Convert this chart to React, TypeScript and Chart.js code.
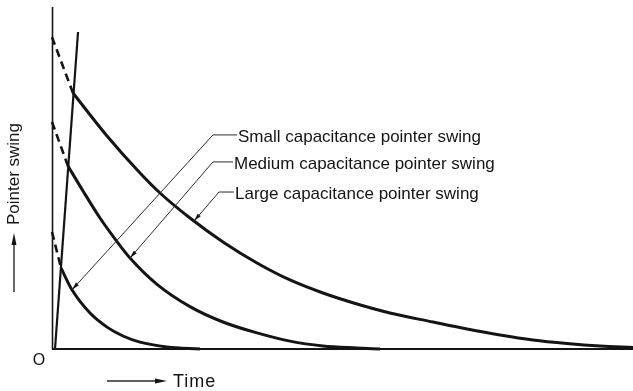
import { useEffect, useRef } from "react";
import { Chart, registerables } from "chart.js";

Chart.register(...registerables);

// Time axis runs 0..100, pointer swing axis 0..100 (arbitrary units).
const largeTime = [3.61, 9.47, 15.15, 18.59, 23.75, 29.43, 35.28, 40.96, 46.64, 52.5, 58.18, 65.58, 71.43, 77.11, 82.79, 88.64, 94.32, 100];
const largeSwing = [74.85, 62.28, 51.46, 45.61, 38.3, 31.29, 25.15, 20.18, 16.37, 13.16, 10.53, 7.89, 5.85, 4.09, 2.63, 1.61, 0.88, 0.44];

const mediumTime = [2.75, 5.34, 8.26, 10.84, 13.43, 18.07, 23.75, 29.43, 35.28, 40.96, 46.64, 52.5, 56.45];
const mediumSwing = [53.5, 46.2, 38.3, 32.2, 26.6, 18.9, 12.4, 7.9, 4.7, 2.3, 0.9, 0.3, 0];

const smallTime = [1.55, 3.44, 6.54, 9.47, 12.22, 15.15, 19.79, 25.47];
const smallSwing = [23.7, 17.3, 10.5, 6.4, 3.8, 2.0, 0.6, 0];

// Initial charging stroke of the pointer
const chargeTime = [0.52, 4.48];
const chargeSwing = [0, 92.7];

// Extrapolated decay back to t = 0 (dashed)
const largeExtrapTime = [0, 3.61];
const largeExtrapSwing = [91.2, 74.85];
const mediumExtrapTime = [0, 2.75];
const mediumExtrapSwing = [66.4, 53.5];
const smallExtrapTime = [0, 1.55];
const smallExtrapSwing = [34.2, 23.7];

const calloutLabels = [
  "Small capacitance pointer swing",
  "Medium capacitance pointer swing",
  "Large capacitance pointer swing",
];
// Arrow tip on each curve, and the elbow where the leader turns horizontal
const calloutTipTime = [3.44, 13.43, 24.44];
const calloutTipSwing = [17.3, 26.6, 37.4];
const calloutElbowTime = [27.71, 27.71, 28.74];
const calloutElbowSwing = [62.6, 54.7, 45.9];

const zip = (xs: number[], ys: number[]) => xs.map((x, i) => ({ x, y: ys[i] }));

const INK = "#141414";
const FONT = '17px "Liberation Sans", Arial, sans-serif';

function arrowHead(
  ctx: CanvasRenderingContext2D,
  fx: number,
  fy: number,
  tx: number,
  ty: number,
  len: number,
  half: number
) {
  const a = Math.atan2(ty - fy, tx - fx);
  const bx = tx - Math.cos(a) * len;
  const by = ty - Math.sin(a) * len;
  ctx.beginPath();
  ctx.moveTo(tx, ty);
  ctx.lineTo(bx + Math.sin(a) * half, by - Math.cos(a) * half);
  ctx.lineTo(bx - Math.sin(a) * half, by + Math.cos(a) * half);
  ctx.closePath();
  ctx.fill();
}

const diagramPlugin = {
  id: "diagramDecorations",
  beforeDatasetsDraw(chart: any) {
    const { ctx, chartArea } = chart;
    const { left, right, top, bottom } = chartArea;
    ctx.save();
    ctx.strokeStyle = INK;
    ctx.lineCap = "butt";
    // vertical axis
    ctx.lineWidth = 1.6;
    ctx.beginPath();
    ctx.moveTo(left + 0.5, top);
    ctx.lineTo(left + 0.5, bottom);
    ctx.stroke();
    // horizontal axis
    ctx.lineWidth = 2;
    ctx.beginPath();
    ctx.moveTo(left, bottom);
    ctx.lineTo(right, bottom);
    ctx.stroke();
    ctx.restore();
  },
  afterDatasetsDraw(chart: any) {
    const { ctx, chartArea, scales } = chart;
    const { left, bottom } = chartArea;
    const px = (v: number) => scales.x.getPixelForValue(v);
    const py = (v: number) => scales.y.getPixelForValue(v);
    ctx.save();
    ctx.fillStyle = INK;
    ctx.strokeStyle = "#2a2a2a";
    ctx.font = FONT;
    ctx.textBaseline = "middle";
    ctx.textAlign = "left";

    // leader lines with labels
    calloutLabels.forEach((label, i) => {
      const tx = px(calloutTipTime[i]);
      const ty = py(calloutTipSwing[i]);
      const ex = px(calloutElbowTime[i]);
      const ey = py(calloutElbowSwing[i]);
      const hx = ex + (i === 2 ? 15 : i === 1 ? 20 : 24);
      ctx.lineWidth = 1;
      ctx.beginPath();
      ctx.moveTo(tx, ty);
      ctx.lineTo(ex, ey);
      ctx.lineTo(hx, ey);
      ctx.stroke();
      arrowHead(ctx, ex, ey, tx, ty, 8, 2);
      ctx.fillText(label, hx + 1, ey + 2);
    });

    // origin mark
    ctx.font = '16px "Liberation Sans", Arial, sans-serif';
    ctx.textAlign = "center";
    ctx.fillText("O", left - 13, bottom + 12);

    // time axis caption with arrow
    ctx.textAlign = "left";
    const ay = bottom + 32;
    ctx.lineWidth = 1.4;
    ctx.beginPath();
    ctx.moveTo(left + 55, ay);
    ctx.lineTo(left + 108, ay);
    ctx.stroke();
    arrowHead(ctx, left + 55, ay, left + 115, ay, 12, 2.5);
    ctx.save();
    ctx.font = '18px "Liberation Sans", Arial, sans-serif';
    (ctx as any).letterSpacing = "1px";
    ctx.fillText("Time", left + 121, ay + 1);
    ctx.restore();

    // swing axis caption with arrow
    ctx.font = FONT;
    const ax = left - 38;
    ctx.beginPath();
    ctx.moveTo(ax, bottom - 57);
    ctx.lineTo(ax, bottom - 108);
    ctx.stroke();
    arrowHead(ctx, ax, bottom - 57, ax, bottom - 116, 12, 2.5);
    ctx.save();
    ctx.translate(ax, 174);
    ctx.rotate(-Math.PI / 2);
    ctx.textAlign = "center";
    ctx.fillText("Pointer swing", 0, 0);
    ctx.restore();

    ctx.restore();
  },
};

export default function App() {
  const canvasRef = useRef<HTMLCanvasElement | null>(null);

  useEffect(() => {
    if (!canvasRef.current) return;
    const curve = (data: { x: number; y: number }[], width: number) => ({
      data,
      borderColor: INK,
      borderWidth: width,
      pointRadius: 0,
      cubicInterpolationMode: "monotone" as const,
      fill: false,
      clip: false as const,
    });
    const dashed = (data: { x: number; y: number }[]) => ({
      ...curve(data, 2.6),
      borderDash: [8, 5],
    });

    const chart = new Chart(canvasRef.current, {
      type: "line",
      data: {
        datasets: [
          { label: "Large capacitance", ...curve(zip(largeTime, largeSwing), 3) },
          { label: "Medium capacitance", ...curve(zip(mediumTime, mediumSwing), 3) },
          { label: "Small capacitance", ...curve(zip(smallTime, smallSwing), 3) },
          { label: "Charging", ...curve(zip(chargeTime, chargeSwing), 2.2) },
          { label: "Large extrapolated", ...dashed(zip(largeExtrapTime, largeExtrapSwing)) },
          { label: "Medium extrapolated", ...dashed(zip(mediumExtrapTime, mediumExtrapSwing)) },
          { label: "Small extrapolated", ...dashed(zip(smallExtrapTime, smallExtrapSwing)) },
        ],
      },
      options: {
        animation: false,
        responsive: true,
        maintainAspectRatio: false,
        parsing: false,
        layout: { padding: { left: 52, top: 7, right: 0, bottom: 42 } },
        scales: {
          x: { type: "linear", min: 0, max: 100, display: false },
          y: { type: "linear", min: 0, max: 100, display: false },
        },
        plugins: {
          legend: { display: false },
          tooltip: { enabled: false },
        },
        events: [],
      },
      plugins: [diagramPlugin],
    });
    return () => chart.destroy();
  }, []);

  return (
    <div
      style={{
        position: "fixed",
        left: 0,
        top: 0,
        width: 633,
        height: 391,
        background: "#ffffff",
      }}
    >
      <canvas ref={canvasRef} />
    </div>
  );
}
